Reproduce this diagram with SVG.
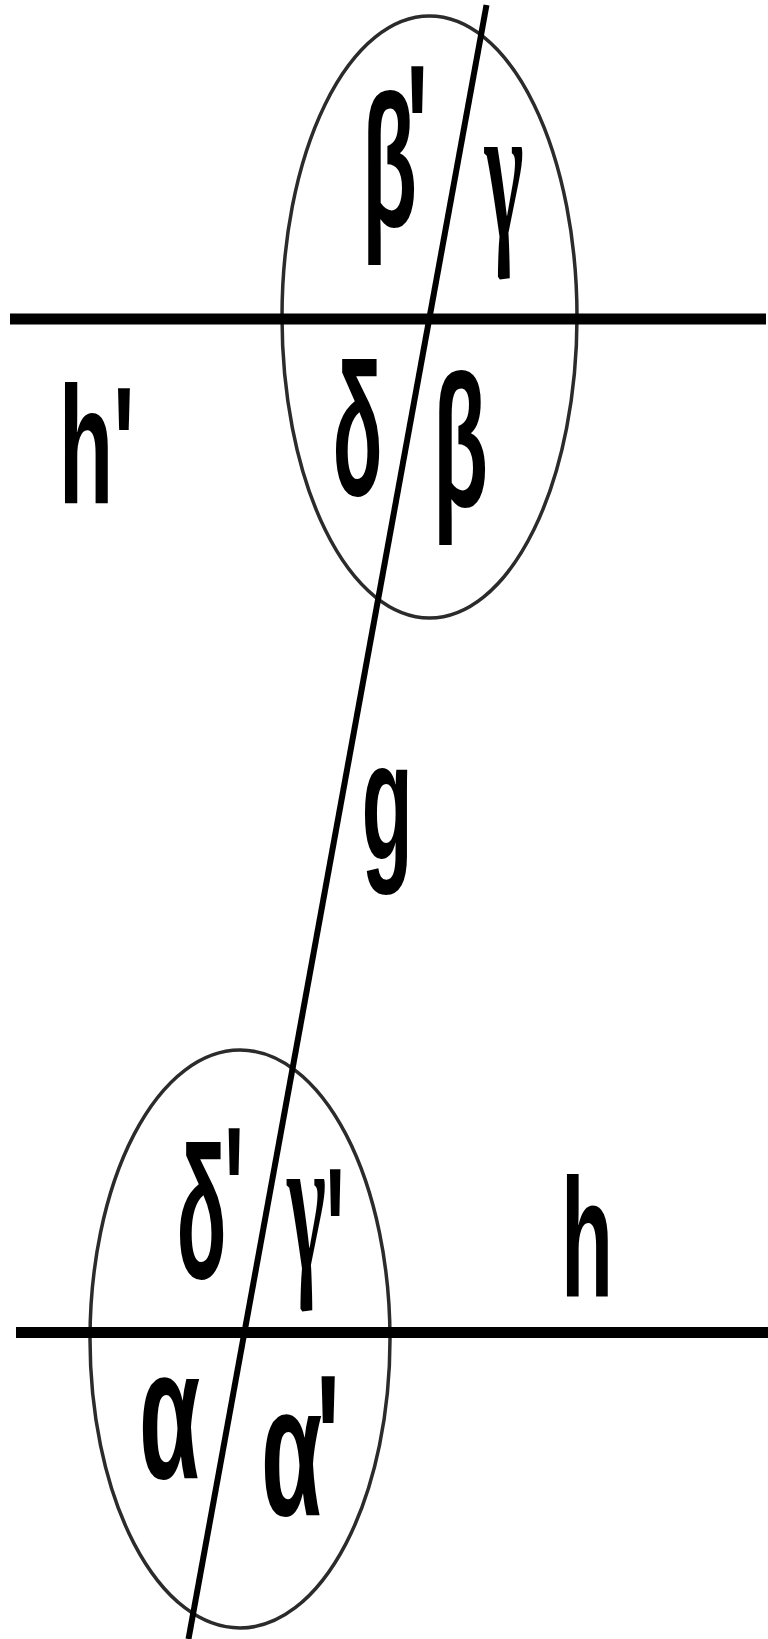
<svg xmlns="http://www.w3.org/2000/svg" width="768" height="1639" viewBox="0 0 768 1639">
<style>
.bg{fill:#ffffff}
.hl{stroke:#000;stroke-width:11;fill:none}
.gl{stroke:#000;stroke-width:6;fill:none}
.el{stroke:#2b2b2b;stroke-width:3.5;fill:none}
.lbl{font-family:"Liberation Sans",Arial,sans-serif;font-weight:bold;fill:#000}
.lat{font-size:168px}
.grk{font-size:188px}
.ser{font-family:"Liberation Serif","Times New Roman",serif;font-size:198px}
.pr{font-family:"Liberation Sans",Arial,sans-serif;font-size:188px}
</style>
<rect class="bg" x="0" y="0" width="768" height="1639"/>
<g id="circle-top"><ellipse class="el" cx="429.5" cy="317" rx="147.5" ry="301"/></g>
<g id="circle-bottom"><ellipse class="el" cx="240" cy="1339" rx="150" ry="289"/></g>
<g id="connectors">
<line id="line-h-prime" class="hl" x1="10" y1="319" x2="766" y2="319"/>
<line id="line-h" class="hl" x1="16" y1="1332.5" x2="768" y2="1332.5"/>
<line id="line-g" class="gl" x1="486.5" y1="5" x2="188.5" y2="1639"/>
</g>
<g id="label-h-prime"><text class="lbl lat" transform="translate(58.7,503) scale(0.532,1)">h'</text></g>
<g id="label-h"><text class="lbl lat" transform="translate(561,1297) scale(0.507,1)">h</text></g>
<g id="label-g"><text class="lbl lat" transform="translate(361.6,859) scale(0.5,1)">g</text></g>
<g id="label-beta-prime"><text class="lbl grk" text-anchor="middle" transform="translate(389.5,225.5) scale(0.48,1)">β<tspan class="pr" x="58" y="-31">'</tspan></text></g>
<g id="label-gamma"><text class="lbl ser" text-anchor="middle" transform="translate(504,238) scale(0.42,1)">γ</text></g>
<g id="label-delta"><text class="lbl grk" text-anchor="middle" transform="translate(357.5,495) scale(0.44,1)">δ</text></g>
<g id="label-beta"><text class="lbl grk" text-anchor="middle" transform="translate(460.5,505.5) scale(0.48,1)">β</text></g>
<g id="label-delta-prime"><text class="lbl grk" text-anchor="middle" transform="translate(201.5,1278) scale(0.44,1)">δ<tspan class="pr" x="74" y="-21.4">'</tspan></text></g>
<g id="label-gamma-prime"><text class="lbl ser" text-anchor="middle" transform="translate(306.5,1270) scale(0.42,1)">γ<tspan class="pr" x="68" y="27.6">'</tspan></text></g>
<g id="label-alpha"><text class="lbl grk" text-anchor="middle" transform="translate(169.5,1478) scale(0.53,1)">α</text></g>
<g id="label-alpha-prime"><text class="lbl grk" text-anchor="middle" transform="translate(291.5,1515) scale(0.53,1)">α<tspan class="pr" x="69" y="-10.4">'</tspan></text></g>
</svg>
